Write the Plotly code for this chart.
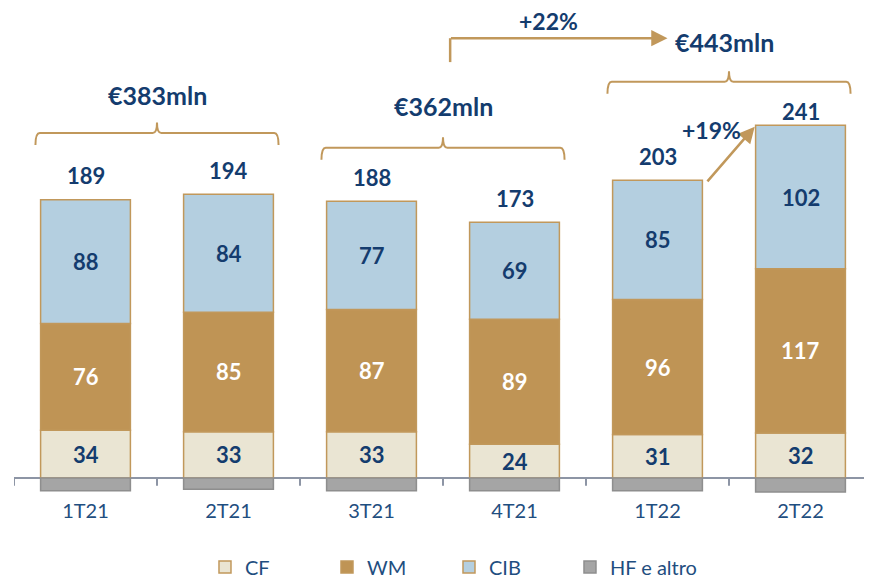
import plotly.graph_objects as go

categories = ["1T21", "2T21", "3T21", "4T21", "1T22", "2T22"]
cf = [34, 33, 33, 24, 31, 32]
wm = [76, 85, 87, 89, 96, 117]
cib = [88, 84, 77, 69, 85, 102]
hf = [-9, -8, -9, -9, -9, -10]
totals = [189, 194, 188, 173, 203, 241]
period_totals = ["€383mln", "€362mln", "€443mln"]
growth_labels = ["+22%", "+19%"]

NAVY = "#143C6E"
TICK = "#1F4E80"
GOLD = "#C1985B"
FONT = "Lato"

x = list(range(len(categories)))

fig = go.Figure()
series = [
    ("CF", cf, "#EAE5D3", GOLD, "legend"),
    ("WM", wm, "#BF9455", GOLD, "legend"),
    ("CIB", cib, "#B4CFE0", GOLD, "legend"),
    ("HF e altro", hf, "#A5A5A5", "#8E8E8E", "legend2"),
]
for name, vals, fill, line, leg in series:
    fig.add_trace(go.Bar(
        x=x, y=vals, name=name, width=0.628, legend=leg,
        marker=dict(color=fill, line=dict(color=line, width=1.5)),
        hoverinfo="skip",
    ))

annotations = []
# segment labels
for i in x:
    base = 0
    for vals, col in ((cf, NAVY), (wm, "white"), (cib, NAVY)):
        v = vals[i]
        annotations.append(dict(x=i, y=base + v / 2, text=f"<b>{v}</b>", showarrow=False,
                                font=dict(family=FONT, size=22, color=col)))
        base += v
    off = 10 if i == len(x) - 1 else 17
    annotations.append(dict(x=i, y=base + off, text=f"<b>{totals[i]}</b>", showarrow=False,
                            font=dict(family=FONT, size=22, color=NAVY), yanchor="middle"))

# brackets: (left index, right index, y, label, label x, label y)
brackets = [
    (0, 1, 245.5, period_totals[0], 0.5, 272.5),
    (2, 3, 235.0, period_totals[1], 2.5, 265.0),
    (4, 5, 282.0, period_totals[2], 4.47, 310.0),
]
shapes = []
for l, r, yb, lab, lx, ly in brackets:
    x0, x1 = l - 0.35, r + 0.35
    xc = (l + r) / 2
    dx, hook, spike = 0.03, 8.5, 7.5
    path = (f"M {x0},{yb - hook} Q {x0},{yb} {x0 + dx},{yb} "
            f"L {xc - dx},{yb} Q {xc},{yb} {xc},{yb + spike} "
            f"Q {xc},{yb} {xc + dx},{yb} L {x1 - dx},{yb} "
            f"Q {x1},{yb} {x1},{yb - hook}")
    shapes.append(dict(type="path", path=path, xref="x", yref="y",
                       line=dict(color=GOLD, width=2)))
    annotations.append(dict(x=lx, y=ly, text=f"<b>{lab}</b>", showarrow=False,
                            font=dict(family=FONT, size=25, color=NAVY)))

# +22% arrow
shapes.append(dict(type="line", x0=2.55, x1=2.55, y0=296, y1=313, xref="x", yref="y",
                   line=dict(color=GOLD, width=2.5)))
annotations.append(dict(x=4.07, y=313, ax=2.545, ay=313, xref="x", yref="y", axref="x", ayref="y",
                        showarrow=True, arrowhead=2, arrowsize=1.3, arrowwidth=2.5,
                        arrowcolor=GOLD, text=""))
annotations.append(dict(x=3.24, y=325, text=f"<b>{growth_labels[0]}</b>", showarrow=False,
                        font=dict(family=FONT, size=23, color=NAVY)))
# +19% arrow
annotations.append(dict(x=4.68, y=250, ax=4.34, ay=210, xref="x", yref="y", axref="x", ayref="y",
                        showarrow=True, arrowhead=2, arrowsize=1.3, arrowwidth=2.5,
                        arrowcolor=GOLD, text=""))
annotations.append(dict(x=4.38, y=248, text=f"<b>{growth_labels[1]}</b>", showarrow=False,
                        font=dict(family=FONT, size=23, color=NAVY)))

# axis line at zero and boundary ticks
shapes.append(dict(type="line", x0=-0.5, x1=5.5, y0=0, y1=0, xref="x", yref="y",
                   line=dict(color="#8D95A5", width=2), layer="below"))
for b in range(len(categories)):
    shapes.append(dict(type="line", x0=b - 0.5, x1=b - 0.5, y0=0, y1=-5.5, xref="x", yref="y",
                       line=dict(color="#8D95A5", width=2), layer="below"))

legend_common = dict(orientation="h", xanchor="left", y=-0.143, yanchor="middle",
                     font=dict(family=FONT, size=20, color=TICK), traceorder="normal",
                     bgcolor="rgba(0,0,0,0)")

# the page body has an 8px margin, so the figure is 8px smaller on each axis
fig.update_layout(
    width=864, height=570,
    margin=dict(l=6, r=0, t=0, b=81, autoexpand=False),
    barmode="relative",
    plot_bgcolor="white", paper_bgcolor="white",
    font=dict(family=FONT, color=TICK),
    xaxis=dict(range=[-0.5, 5.5], tickvals=x, ticktext=categories, showgrid=False,
               zeroline=False, showline=False, ticks="", automargin=False,
               tickfont=dict(family=FONT, size=20, color=TICK), fixedrange=True),
    yaxis=dict(range=[-13.5, 334.5], visible=False, fixedrange=True, automargin=False),
    showlegend=True,
    legend=dict(x=0.2226, entrywidth=77, entrywidthmode="pixels", **legend_common),
    legend2=dict(x=0.648, **legend_common),
    annotations=annotations,
    shapes=shapes,
)

fig.write_html("out.html")
